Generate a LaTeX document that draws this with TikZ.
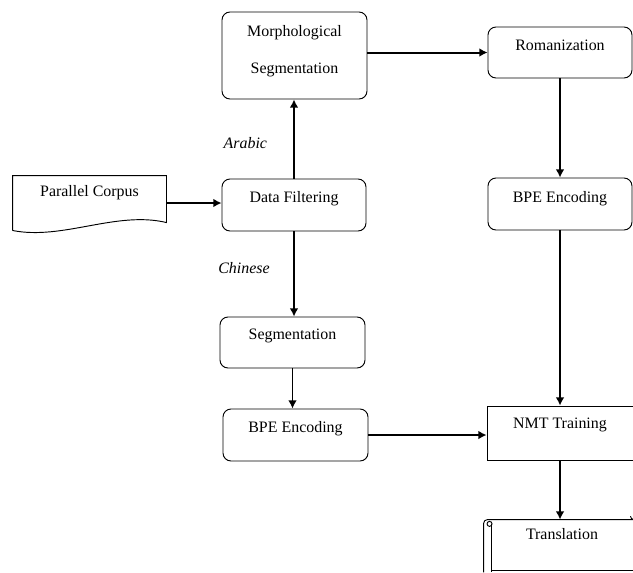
\documentclass[tikz,border=0pt]{standalone}
\usepackage{fontspec}
\setmainfont{Liberation Serif}
\usepackage{tikz}
\usetikzlibrary{calc,arrows.meta}

\begin{document}
\begin{tikzpicture}[>={Latex[length=7pt,width=7.5pt]},
  box/.style={draw,line width=0.8pt,rounded corners=0.24cm,minimum width=4.35cm,minimum height=1.56cm,
    font=\fontsize{13.6}{16}\selectfont,text height=9.5pt,text depth=13.5pt},
  plainbox/.style={box,rounded corners=0pt},
  lang/.style={font=\fontsize{13.6}{16}\selectfont\itshape},
  flow/.style={->,line width=1.7pt}]

\useasboundingbox (0,0) rectangle (18.99,-17.16);

\node[box,minimum height=2.61cm,align=center,text height=34pt,text depth=3pt,font=\fontsize{13.6}{31.6}\selectfont] (morph) at (8.835,-1.665) {Morphological\\Segmentation};
\node[box,minimum width=4.32cm,minimum height=1.53cm,text depth=13.7pt] (roman) at (16.8,-1.575) {Romanization};
\node[box,minimum width=4.32cm] (filt) at (8.82,-6.15) {Data Filtering};
\node[box,minimum width=4.32cm,text depth=12pt] (bpeR) at (16.8,-6.12) {BPE Encoding};
\node[box,minimum height=1.53cm,text depth=14.6pt] (seg) at (8.775,-10.275) {Segmentation};
\node[box] (bpeL) at (8.865,-13.05) {BPE Encoding};
\node[plainbox,minimum width=4.38cm,minimum height=1.62cm,text depth=17.2pt] (nmt) at (16.8,-12.99) {NMT Training};

\node[box,draw=none,minimum width=4.59cm,minimum height=1.62cm,text depth=20.5pt] (corpus) at (2.685,-6.09) {Parallel Corpus};
\draw[line width=0.8pt] (corpus.south west) -- (corpus.north west) -- (corpus.north east) -- ++(0,-1.41)
  .. controls +(-1.5,0.36) and +(1.5,-0.3) .. (corpus.south west);

\node[box,draw=none,minimum width=4.68cm,text depth=20.5pt] (trans) at (16.86,-16.38) {Translation};
\draw[line width=0.8pt] (trans.south west) -- ([yshift=-0.12cm]trans.north west) arc (180:90:0.12) -- (trans.north east);
\draw[line width=0.8pt] ([xshift=0.18cm,yshift=-0.13cm]trans.north west) circle (0.075);
\draw[line width=0.8pt] ([xshift=0.24cm,yshift=-0.12cm]trans.north west) -- ([xshift=0.24cm]trans.south west);
\draw[line width=0.8pt] ([xshift=0.24cm,yshift=0.06cm]trans.south west) -- ([yshift=0.06cm]trans.south east);
\draw[line width=0.8pt] ([xshift=-0.2cm]trans.north east) arc (270:180:0.1);

\node[lang] (arabic) at (7.36,-4.29) {Arabic};
\node[lang] (chinese) at (7.32,-8.04) {Chinese};

\draw[flow] (corpus.east) -- (corpus.east -| filt.west);
\draw[flow] (filt.north) -- (filt.north |- morph.south);
\draw[flow] (morph.east |- roman) -- (roman.west);
\draw[flow] (roman.south) -- (roman.south |- bpeR.north);
\draw[flow] (filt.south) -- (filt.south |- seg.north);
\draw[flow] (seg.south) -- (seg.south |- bpeL.north);
\draw[flow] (bpeL.east) -- (bpeL.east -| nmt.west);
\draw[flow] (bpeR.south) -- (bpeR.south |- nmt.north);
\draw[flow] (nmt.south) -- (nmt.south |- trans.north);

\end{tikzpicture}
\end{document}
